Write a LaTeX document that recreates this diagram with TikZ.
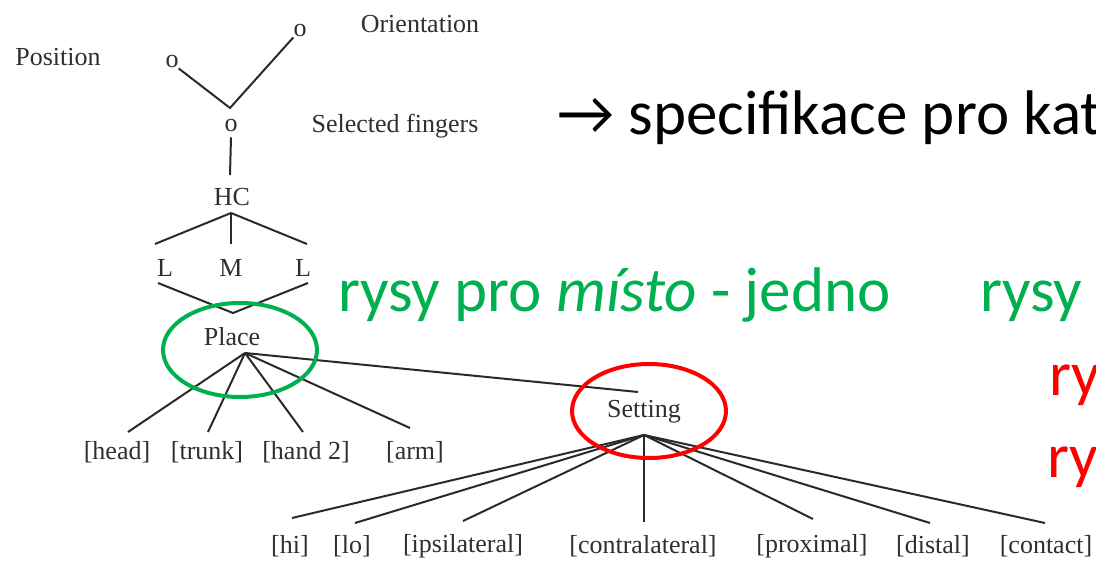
\documentclass[tikz,border=0pt]{standalone}
\usepackage{fontspec}
\setmainfont{Liberation Serif}
\newfontfamily\calibri{Carlito}
\definecolor{ink}{HTML}{2F2F2F}
\definecolor{edge}{HTML}{2A2A2A}
\definecolor{offgreen}{HTML}{00B050}
\definecolor{offred}{HTML}{FF0000}
\tikzset{
  lbl/.style={inner sep=0pt, text=ink, font=\fontsize{26}{30}\selectfont},
  big/.style={inner sep=0pt, anchor=base west, font=\calibri\fontsize{63}{70}\selectfont},
  br/.style={draw=edge, line width=2pt},
  ring/.style={line width=4pt}
}
\begin{document}
\begin{tikzpicture}[x=1pt,y=-1pt]
\useasboundingbox (0,0) rectangle (1096,561);
\clip (0,0) rectangle (1096,561);
% hand configuration part
\node[lbl] (position) at (58,57) {Position};
\node[lbl] (orientation) at (420,24) {Orientation};
\node[lbl] (selected) at (395,126) {Selected fingers};
\node[lbl] (opos) at (172,62) {o};
\node[lbl] (oori) at (300,31) {o};
\node[lbl] (osel) at (231,126) {o};
\coordinate (jn) at (230,108);
\draw[br] (opos.south east) -- (jn) -- (oori.south west);
\draw[br] (osel.south) ++(0,5) coordinate (oselb) -- (230,175) coordinate (hct);
\node[lbl] (hc) at (232,197) {HC};
\coordinate (hcv) at (231,213);
\node[lbl] (l1) at (165,268) {L};
\node[lbl] (m) at (231,268) {M};
\node[lbl] (l2) at (303,268) {L};
\coordinate (l1t) at (155,244);
\coordinate (mt) at (231,244);
\coordinate (l2t) at (307,244);
\draw[br] (hcv) -- (l1t);
\draw[br] (hcv) -- (mt);
\draw[br] (hcv) -- (l2t);
\coordinate (l1b) at (158,283);
\coordinate (l2b) at (308,283);
\coordinate (placet) at (233,313);
\draw[br] (l1b) -- (placet) -- (l2b);
% place
\node[lbl] (place) at (232,337) {Place};
\coordinate (placev) at (245,353);
\node[lbl] (head) at (117,452) {[head]};
\node[lbl] (trunk) at (207,452) {[trunk]};
\node[lbl] (hand) at (306,452) {[hand 2]};
\node[lbl] (arm) at (415,452) {[arm]};
\coordinate (headt) at (128,432);
\coordinate (trunkt) at (208,432);
\coordinate (handt) at (303,432);
\coordinate (armt) at (410,428);
\draw[br] (placev) -- (headt);
\draw[br] (placev) -- (trunkt);
\draw[br] (placev) -- (handt);
\draw[br] (placev) -- (armt);
% setting
\node[lbl] (setting) at (644,412) {Setting};
\coordinate (settingt) at (638,392);
\coordinate (settingv) at (644,435);
\draw[br] (placev) -- (settingt);
\node[lbl] (hi) at (290,546) {[hi]};
\node[lbl] (lo) at (352,546) {[lo]};
\node[lbl] (ipsi) at (463,546) {[ipsilateral]};
\node[lbl] (contra) at (643,546) {[contralateral]};
\node[lbl] (prox) at (812,546) {[proximal]};
\node[lbl] (dist) at (933,546) {[distal]};
\node[lbl] (cont) at (1046,546) {[contact]};
\coordinate (hit) at (292,518);
\coordinate (lot) at (355,523);
\coordinate (ipsit) at (463,521);
\coordinate (contrat) at (644,522);
\coordinate (proxt) at (813,519);
\coordinate (distt) at (930,523);
\coordinate (contt) at (1045,523);
\foreach \t in {hit,lot,ipsit,contrat,proxt,distt,contt}
  \draw[br] (settingv) -- (\t);
% rings
\draw[ring, offgreen] (240,350) ellipse [x radius=77, y radius=47];
\draw[ring, offred] (649,411) ellipse [x radius=77, y radius=47];
% slide text (cut off at the right edge, as in the reference)
\node[big, text=black] (spec) at (557,135) {→ specifikace pro kat};
\node[big, text=offgreen] (misto) at (338,312) {rysy pro \textit{místo} - jedno};
\node[big, text=offgreen] (rysy2) at (980,312) {rysy};
\node[big, text=offred] (ry1) at (1049,396) {ry};
\node[big, text=offred] (ry2) at (1047,478) {ry};
\end{tikzpicture}
\end{document}
